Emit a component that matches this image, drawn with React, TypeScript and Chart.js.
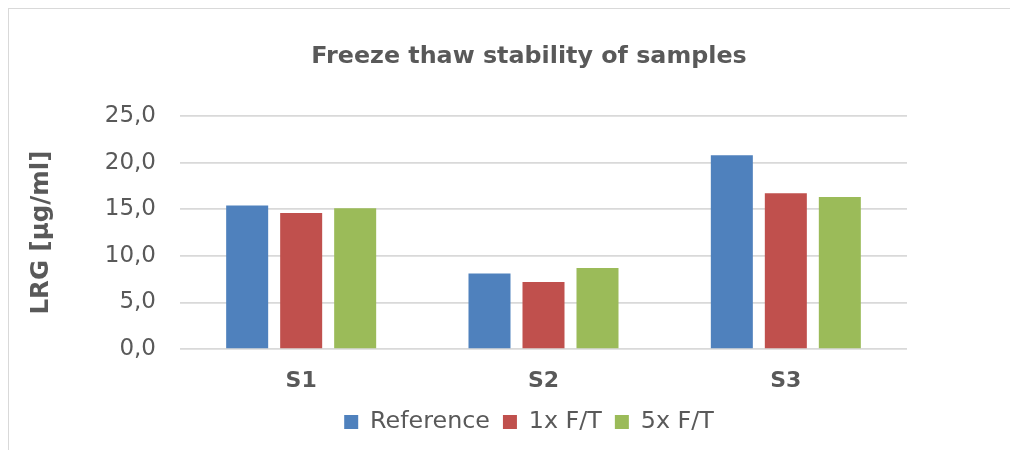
import React, { useEffect, useRef } from "react";
import { Chart, registerables } from "chart.js";

Chart.register(...registerables);

const categories = ["S1", "S2", "S3"];
const seriesNames = ["Reference", "1x F/T", "5x F/T"];
const referenceValues = [15.4, 8.1, 20.8];
const ft1Values = [14.6, 7.2, 16.7];
const ft5Values = [15.1, 8.7, 16.3];
const seriesColors = ["#4F81BD", "#C0504D", "#9BBB59"];
const chartTitle = "Freeze thaw stability of samples";
const yAxisTitle = "LRG [µg/ml]";

const FONT = "'DejaVu Sans', Verdana, sans-serif";
const TEXT = "#595959";

export default function App() {
  const ref = useRef<HTMLCanvasElement | null>(null);

  useEffect(() => {
    if (!ref.current) return;
    const values = [referenceValues, ft1Values, ft5Values];
    const chart = new Chart(ref.current, {
      type: "bar",
      data: {
        labels: categories,
        datasets: seriesNames.map((name, i) => ({
          label: name,
          data: values[i],
          backgroundColor: seriesColors[i],
          borderWidth: 0,
          categoryPercentage: 0.6685,
          barPercentage: 0.778,
          yAxisID: "y",
        })),
      },
      options: {
        animation: false,
        responsive: false,
        maintainAspectRatio: false,
        layout: { padding: { left: 0, right: 0, top: 0, bottom: 6 } },
        plugins: {
          title: {
            display: true,
            text: chartTitle,
            color: TEXT,
            font: { family: FONT, size: 23.8, weight: "bold", lineHeight: 1.2 },
            padding: { top: 33.7, bottom: 44.7 },
          },
          legend: {
            display: true,
            position: "bottom",
            labels: {
              color: TEXT,
              font: { family: FONT, size: 23.8 },
              boxWidth: 14,
              boxHeight: 14,
              padding: 13,
            },
          },
          tooltip: { enabled: false },
        },
        scales: {
          x: {
            grid: { display: false, drawTicks: false },
            border: { display: false },
            ticks: {
              color: TEXT,
              font: { family: FONT, size: 22, weight: "bold" },
              padding: 19,
            },
            afterFit: (s: any) => {
              s.height = 48.1;
            },
          },
          y: {
            position: "left",
            min: 0,
            max: 25,
            grid: { color: "#D9D9D9", lineWidth: 1.8, drawTicks: false },
            border: { display: false },
            ticks: {
              stepSize: 5,
              color: TEXT,
              font: { family: FONT, size: 23 },
              padding: 24,
              callback: (v: any) => Number(v).toFixed(1).replace(".", ","),
            },
            title: {
              display: true,
              text: yAxisTitle,
              color: TEXT,
              font: { family: FONT, size: 24.5, weight: "bold", lineHeight: 1.2 },
              padding: { top: 18.3, bottom: 0 },
            },
            afterFit: (s: any) => {
              s.width = 171;
            },
          },
          spacer: {
            type: "linear",
            position: "right",
            display: true,
            grid: { display: false, drawTicks: false },
            border: { display: false },
            ticks: { display: false },
            afterFit: (s: any) => {
              s.width = 142;
            },
          },
        },
      },
    });
    return () => chart.destroy();
  }, []);

  return (
    <div
      style={{
        position: "fixed",
        left: 8,
        top: 8,
        width: 1002,
        height: 442,
        boxSizing: "border-box",
        borderTop: "1px solid #D9D9D9",
        borderLeft: "1px solid #D9D9D9",
        overflow: "hidden",
        background: "#fff",
      }}
    >
      <canvas ref={ref} width={1040} height={441} style={{ display: "block" }} />
    </div>
  );
}
